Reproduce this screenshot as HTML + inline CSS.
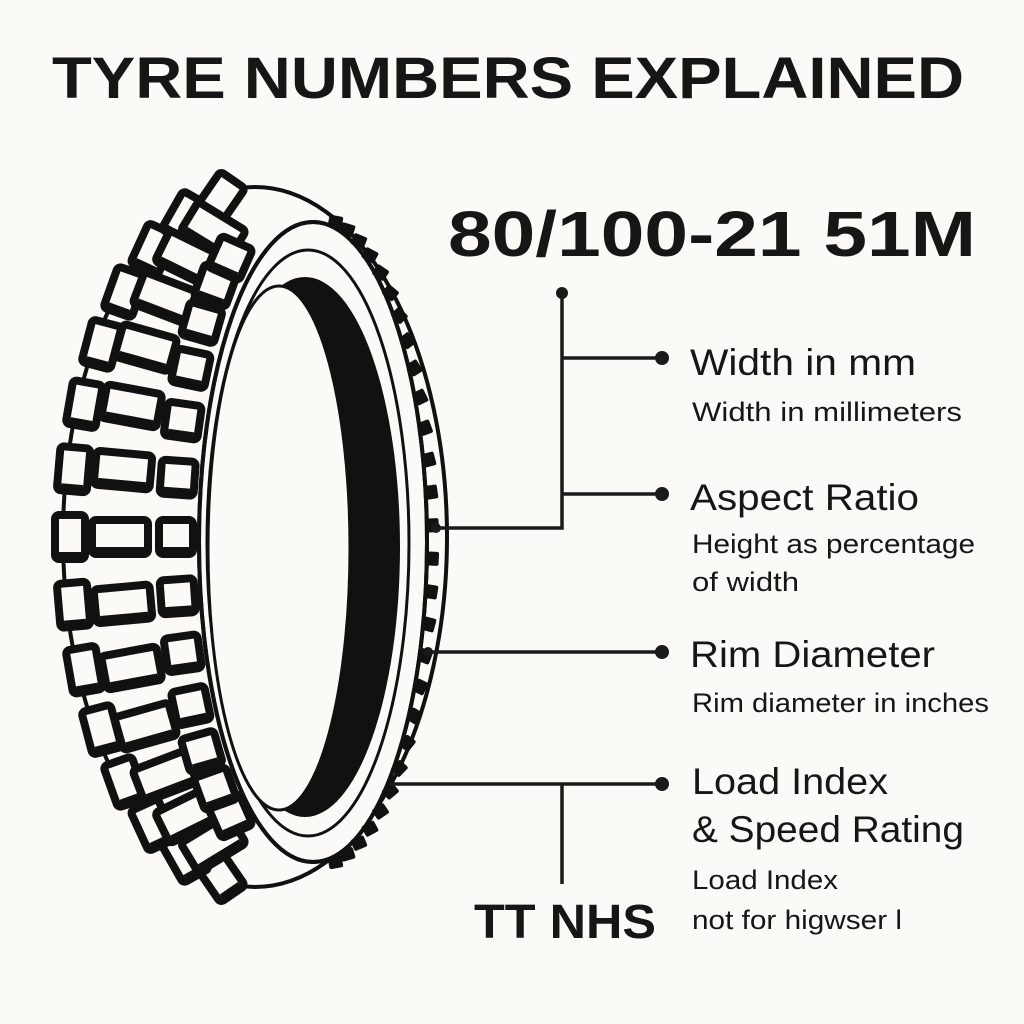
<!DOCTYPE html>
<html><head><meta charset="utf-8"><style>
html,body{margin:0;padding:0;background:#fbfaf6;}
svg{display:block}
text{font-family:"Liberation Sans","DejaVu Sans",sans-serif;fill:#161616}
</style></head><body>
<svg id="s" width="1024" height="1024" viewBox="0 0 1024 1024" xmlns="http://www.w3.org/2000/svg">
<rect width="1024" height="1024" fill="#fbfaf6"/>
<text x="508" y="98" font-size="58" font-weight="bold" text-anchor="middle" textLength="912" lengthAdjust="spacingAndGlyphs">TYRE NUMBERS EXPLAINED</text>
<text x="448" y="256" font-size="64" font-weight="bold" textLength="528" lengthAdjust="spacingAndGlyphs">80/100-21 51M</text>
<g id="tyre"></g>
<g stroke="#1a1a1a" stroke-width="3.5" fill="none">
<polyline points="436,528 562,528 562,293"/>
<line x1="562" y1="358" x2="662" y2="358"/>
<line x1="562" y1="494" x2="662" y2="494"/>
<line x1="428" y1="652" x2="662" y2="652"/>
<line x1="390" y1="784" x2="662" y2="784"/>
<line x1="562" y1="784" x2="562" y2="884"/>
</g>
<g fill="#1a1a1a">
<circle cx="562" cy="293" r="6"/><circle cx="662" cy="358" r="7"/><circle cx="662" cy="494" r="7"/><circle cx="662" cy="652" r="7"/><circle cx="662" cy="784" r="7"/>
<circle cx="436" cy="528" r="5"/><circle cx="428" cy="652" r="5"/>
</g>
<text x="690" y="375" font-size="37" textLength="226" lengthAdjust="spacingAndGlyphs">Width in mm</text>
<text x="692" y="421" font-size="27" textLength="270" lengthAdjust="spacingAndGlyphs">Width in millimeters</text>
<text x="690" y="510" font-size="37" textLength="229" lengthAdjust="spacingAndGlyphs">Aspect Ratio</text>
<text x="692" y="553" font-size="27" textLength="283" lengthAdjust="spacingAndGlyphs">Height as percentage</text>
<text x="692" y="591" font-size="27" textLength="107" lengthAdjust="spacingAndGlyphs">of width</text>
<text x="690" y="667" font-size="37" textLength="245" lengthAdjust="spacingAndGlyphs">Rim Diameter</text>
<text x="692" y="712" font-size="27" textLength="297" lengthAdjust="spacingAndGlyphs">Rim diameter in inches</text>
<text x="692" y="794" font-size="37" textLength="196" lengthAdjust="spacingAndGlyphs">Load Index</text>
<text x="692" y="842" font-size="37" textLength="272" lengthAdjust="spacingAndGlyphs">&amp; Speed Rating</text>
<text x="692" y="889" font-size="27" textLength="146" lengthAdjust="spacingAndGlyphs">Load Index</text>
<text x="692" y="929" font-size="27" textLength="210" lengthAdjust="spacingAndGlyphs">not for higwser l</text>
<text x="474" y="938" font-size="48" font-weight="bold" textLength="182" lengthAdjust="spacingAndGlyphs">TT NHS</text>
</svg>
<script>
var g=document.getElementById('tyre'),h='';
h+='<ellipse cx="255" cy="537" rx="192" ry="350" fill="#fbfaf6" stroke="#111" stroke-width="4"/>';
function col(cx,cy,rx,ry,w,hh,n,a0,a1,k){
 for(var i=0;i<n;i++){var a=a0+(a1-a0)*i/(n-1);var x=cx+rx*Math.cos(a),y=cy+ry*Math.sin(a);
 var rot=(a-Math.PI)*k;
 h+='<g transform="translate('+x.toFixed(1)+','+y.toFixed(1)+') rotate('+rot.toFixed(1)+')"><rect x="'+(-w/2)+'" y="'+(-hh/2)+'" width="'+w+'" height="'+hh+'" rx="4" fill="#fbfaf6" stroke="#111" stroke-width="8"/><rect x="'+(-w/2+4)+'" y="'+(hh/2-7)+'" width="'+(w-8)+'" height="5" fill="#111"/></g>';}
}
col(255,537,185,345,30,44,15,Math.PI*0.56,Math.PI*1.44,25);
col(255,537,135,322,56,34,13,Math.PI*0.6,Math.PI*1.4,25);
col(262,537,86,300,34,34,13,Math.PI*0.62,Math.PI*1.38,20);
h+='<ellipse cx="313" cy="542" rx="114" ry="320" fill="#fbfaf6" stroke="#111" stroke-width="4"/>';
for(var i=0;i<28;i++){var a=-Math.PI*0.44+Math.PI*0.88*i/27;var x=313+118*Math.cos(a),y=542+324*Math.sin(a);
 h+='<rect x="'+(x-4).toFixed(1)+'" y="'+(y-7).toFixed(1)+'" width="12" height="14" rx="2" fill="#111" transform="rotate('+(a*57.3).toFixed(1)+' '+x.toFixed(1)+' '+y.toFixed(1)+')"/>';}
h+='<ellipse cx="313" cy="542" rx="114" ry="320" fill="none" stroke="#111" stroke-width="4"/>';
h+='<ellipse cx="308" cy="543" rx="101" ry="293" fill="#fbfaf6" stroke="#111" stroke-width="3"/>';
h+='<ellipse cx="305" cy="547" rx="95" ry="270" fill="#111"/>';
h+='<ellipse cx="279" cy="548" rx="71" ry="262" fill="#fbfaf6" stroke="#111" stroke-width="3"/>';
g.innerHTML=h;
</script>
</body></html>
